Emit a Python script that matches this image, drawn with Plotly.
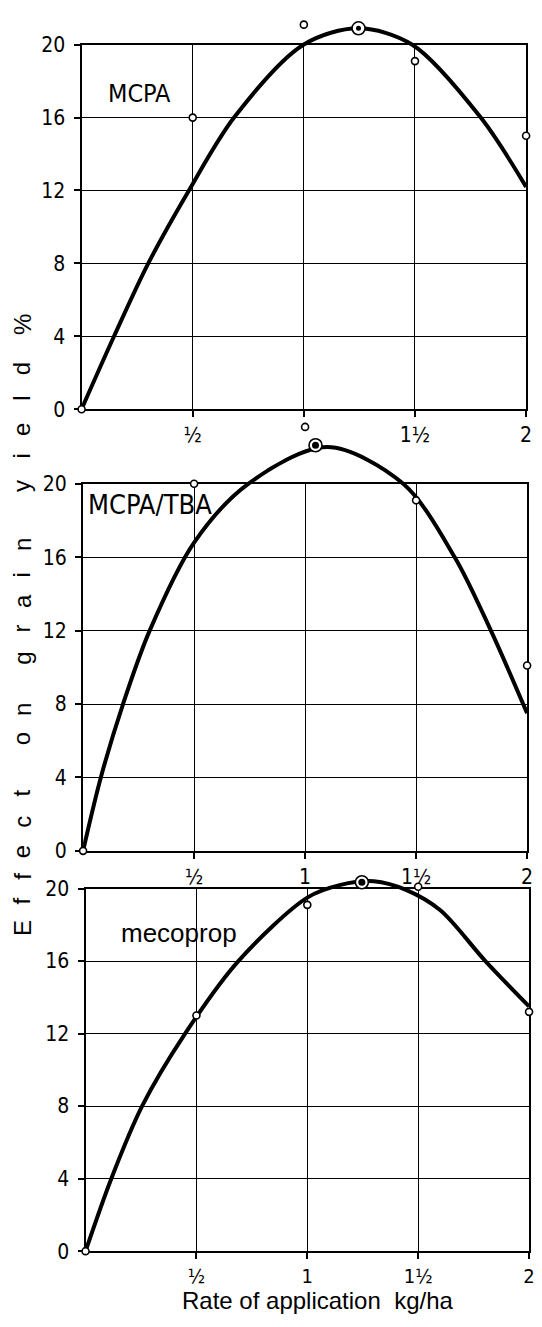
import plotly.graph_objects as go

# ---------------- data ----------------
rates = [0, 0.5, 1, 1.5, 2]

mcpa_obs = [0, 16.0, 21.1, 19.1, 15.0]
mcpa_tba_obs = [0, 20.0, 23.1, 19.1, 10.1]
mecoprop_obs = [0, 13.0, 19.1, 20.1, 13.2]

mcpa_opt_x, mcpa_opt_y = [1.246], [20.9]
mcpa_tba_opt_x, mcpa_tba_opt_y = [1.047], [22.1]
mecoprop_opt_x, mecoprop_opt_y = [1.246], [20.35]

mcpa_curve_x = [0, 0.146, 0.30, 0.483, 0.686, 0.998, 1.246, 1.488, 1.796, 2.0]
mcpa_curve_y = [0, 4, 8, 12, 16, 20, 20.9, 20, 16, 12.2]

mcpa_tba_curve_x = [0, 0.08, 0.18, 0.30, 0.50, 0.744, 1.10, 1.442, 1.674, 1.837, 2.0]
mcpa_tba_curve_y = [0, 4, 8, 12, 16.8, 20, 22.0, 20, 16, 12, 7.5]

mecoprop_curve_x = [0, 0.116, 0.255, 0.449, 0.689, 1.0, 1.15, 1.30, 1.45, 1.60, 1.803, 2.0]
mecoprop_curve_y = [0, 4, 8, 12, 16, 19.5, 20.2, 20.4, 19.9, 18.8, 16, 13.5]

panel_names = ["MCPA", "MCPA/TBA", "mecoprop"]
y_ticks = [0, 4, 8, 12, 16, 20]
x_ticks = [0.5, 1, 1.5, 2]
x_ticktext_top = ["½", "", "1½", "2"]
x_ticktext = ["½", "1", "1½", "2"]

# ---------------- layout geometry ----------------
W, H = 542, 1327
panels = [
    dict(x0=82.5, x2=532.0, ytop=33.3, ybot=404.5, rtop=21.7),
    dict(x0=84.0, x2=533.0, ytop=480.5, ybot=854.3, rtop=23.5),
    dict(x0=86.5, x2=535.0, ytop=892.7, ybot=1262.0, rtop=21.0),
]

NARROW = "DejaVu Sans Condensed, Liberation Sans, Arial, sans-serif"
REG = "Liberation Sans, Arial, sans-serif"
TICKFONT = dict(family=NARROW, size=21, color="black")

fig = go.Figure()
layout = dict(
    width=W, height=H, autosize=False,
    margin=dict(l=0, r=0, t=0, b=0),
    paper_bgcolor="white", plot_bgcolor="rgba(0,0,0,0)",
    showlegend=False,
)

obs_sets = [mcpa_obs, mcpa_tba_obs, mecoprop_obs]
opt_sets = [(mcpa_opt_x, mcpa_opt_y), (mcpa_tba_opt_x, mcpa_tba_opt_y), (mecoprop_opt_x, mecoprop_opt_y)]
curve_sets = [(mcpa_curve_x, mcpa_curve_y), (mcpa_tba_curve_x, mcpa_tba_curve_y),
              (mecoprop_curve_x, mecoprop_curve_y)]
inner_sizes = [5, 7, 7]

for i, p in enumerate(panels):
    gi = i + 1          # grid axes
    di = i + 4          # data axes
    sfx = "" if gi == 1 else str(gi)
    xdom = [p["x0"] / W, p["x2"] / W]
    ydom = [1 - p["ybot"] / H, 1 - p["ytop"] / H]
    top_px = p["ybot"] - (p["ybot"] - p["ytop"]) * p["rtop"] / 20.0
    ydom_d = [1 - p["ybot"] / H, 1 - top_px / H]

    layout[f"xaxis{sfx}"] = dict(
        domain=xdom, range=[0, 2], anchor=f"y{sfx}",
        tickmode="array", tickvals=x_ticks,
        ticktext=x_ticktext_top if i == 0 else x_ticktext,
        ticks="outside", ticklen=6, tickwidth=1.5, tickcolor="black",
        showgrid=True, gridcolor="black", gridwidth=1.4,
        showline=True, linecolor="black", linewidth=2, mirror=True,
        zeroline=False, tickfont=dict(TICKFONT, size=21 if i < 2 else 20), ticklabelstandoff=0,
        fixedrange=True,
    )
    layout[f"yaxis{sfx}"] = dict(
        domain=ydom, range=[0, 20], anchor=f"x{sfx}",
        tickmode="array", tickvals=y_ticks,
        ticks="outside", ticklen=6, tickwidth=1.5, tickcolor="black",
        showgrid=True, gridcolor="black", gridwidth=1.4,
        showline=True, linecolor="black", linewidth=2, mirror=True,
        zeroline=False, tickfont=TICKFONT, ticklabelstandoff=4, fixedrange=True,
    )
    layout[f"xaxis{di}"] = dict(domain=xdom, range=[0, 2], anchor=f"y{di}", visible=False, fixedrange=True)
    layout[f"yaxis{di}"] = dict(domain=ydom_d, range=[0, p["rtop"]], anchor=f"x{di}", visible=False, fixedrange=True)

    # invisible trace so the grid subplot is drawn
    fig.add_trace(go.Scatter(x=rates, y=obs_sets[i], mode="markers", xaxis=f"x{sfx}", yaxis=f"y{sfx}",
                             marker=dict(opacity=0), hoverinfo="skip"))

    cx, cy = curve_sets[i]
    fig.add_trace(go.Scatter(x=cx, y=cy, mode="lines", xaxis=f"x{di}", yaxis=f"y{di}",
                             line=dict(color="black", width=4, shape="spline", smoothing=0.9),
                             hoverinfo="skip"))
    fig.add_trace(go.Scatter(x=rates, y=obs_sets[i], mode="markers", xaxis=f"x{di}", yaxis=f"y{di}",
                             cliponaxis=False,
                             marker=dict(symbol="circle", size=7, color="white",
                                         line=dict(color="black", width=1.6))))
    ox, oy = opt_sets[i]
    fig.add_trace(go.Scatter(x=ox, y=oy, mode="markers", xaxis=f"x{di}", yaxis=f"y{di}",
                             cliponaxis=False,
                             marker=dict(symbol="circle", size=13, color="white",
                                         line=dict(color="black", width=1.6))))
    fig.add_trace(go.Scatter(x=ox, y=oy, mode="markers", xaxis=f"x{di}", yaxis=f"y{di}",
                             cliponaxis=False,
                             marker=dict(symbol="circle", size=inner_sizes[i], color="black",
                                         line=dict(width=0))))

annotations = []
# panel labels
label_pos = [(107.0, 83.0, NARROW, 25),
             (86.5, 502.0, NARROW, 27),
             (120.0, 938.0, REG, 26)]
for name, (lx, ly, fam, sz) in zip(panel_names, label_pos):
    annotations.append(dict(text=name, xref="paper", yref="paper", x=lx / W, y=1 - ly / H,
                            xanchor="left", yanchor="middle", showarrow=False,
                            font=dict(family=fam, size=sz, color="black")))

# x-axis title
annotations.append(dict(text="Rate of application\u00a0\u00a0kg/ha", xref="paper", yref="paper",
                        x=321 / W, y=0, xanchor="center", yanchor="bottom",
                        showarrow=False, borderpad=0,
                        font=dict(family=REG, size=24, color="black")))

# y-axis title, spaced letters
ytitle_letters = ["E", "f", "f", "e", "c", "t", "o", "n", "g", "r", "a", "i", "n",
                  "y", "i", "e", "l", "d", "%"]
ytitle_pos = [933, 905, 880, 855, 825, 795, 740, 710, 658, 628, 600, 573, 542,
              483, 452, 425, 393, 363, 318]
for ch, py in zip(ytitle_letters, ytitle_pos):
    annotations.append(dict(text=ch, xref="paper", yref="paper", x=22 / W, y=1 - py / H,
                            xanchor="center", yanchor="middle", textangle=-90, showarrow=False,
                            font=dict(family=REG, size=24, color="black")))

layout["annotations"] = annotations
fig.update_layout(**layout)
fig.write_html("out.html")
